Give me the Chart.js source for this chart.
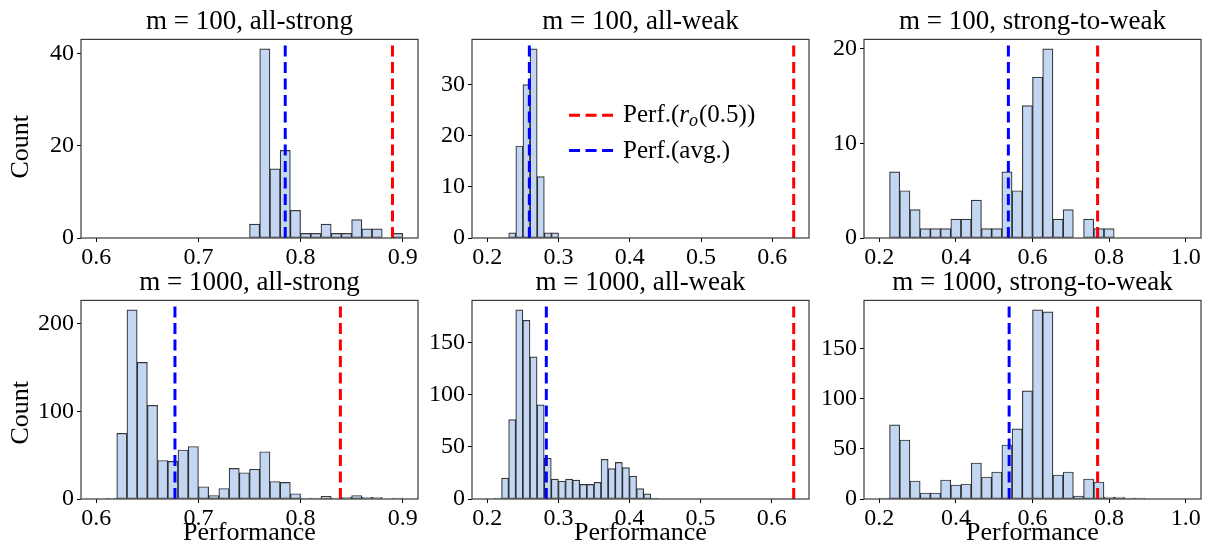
<!DOCTYPE html>
<html><head><meta charset="utf-8">
<script src="https://cdn.jsdelivr.net/npm/chart.js@4"></script>
<style>
html,body{margin:0;padding:0;background:#fff;}
#wrap{position:relative;width:1205px;height:549px;overflow:hidden;background:#fff;}
#wrap canvas{position:absolute;}
</style></head><body><div id="wrap"></div>
<script>
// ---------------- data ----------------
const binCount = 30;
const strongRange = [0.6, 0.9];
const weakRange = [0.2, 0.5];
const s2wRange = [0.2, 1.0];

const counts100Strong = [0,0,0,0,0,0,0,0,0,0,0,0,0,0,0,3,41,15,19,6,1,1,3,1,1,4,2,2,0,1];
const counts100Weak   = [0,0,0,1,18,30,37,12,1,1,0,0,0,0,0,0,0,0,0,0,0,0,0,0,0,0,0,0,0,0];
const counts100S2W    = [0,7,5,3,1,1,1,2,2,4,1,1,7,5,14,17,20,2,3,0,2,1,1,0,0,0,0,0,0,0];
const counts1000Strong= [0,1,75,216,156,107,44,43,56,60,14,4,12,35,30,34,54,20,19,6,1,1,3,1,2,4,2,2,0,1];
const counts1000Weak  = [0,1,20,76,181,171,136,90,39,19,17,19,18,14,14,16,38,29,35,30,22,10,5,1,0,0,0,0,0,0];
const counts1000S2W   = [1,74,59,18,6,6,19,14,15,36,22,27,54,70,108,189,187,24,27,3,20,17,2,2,1,1,0,0,0,0];

const avgPerf = [0.785, 0.259, 0.537, 0.677, 0.283, 0.539];
const roPerf  = [0.890, 0.630, 0.770, 0.839, 0.631, 0.770];

const panelTitles = ['m = 100, all-strong','m = 100, all-weak','m = 100, strong-to-weak',
                     'm = 1000, all-strong','m = 1000, all-weak','m = 1000, strong-to-weak'];
const xTicksStrong = [0.6, 0.7, 0.8, 0.9];
const xTicksWeak   = [0.2, 0.3, 0.4, 0.5, 0.6];
const xTicksS2W    = [0.2, 0.4, 0.6, 0.8, 1.0];
const yTicks100Strong = [0, 20, 40];
const yTicks100Weak   = [0, 10, 20, 30];
const yTicks100S2W    = [0, 10, 20];
const yTicks1000Strong= [0, 100, 200];
const yTicks1000Weak  = [0, 50, 100, 150];
const yTicks1000S2W   = [0, 50, 100, 150];
const yLabel = 'Count';
const xLabel = 'Performance';
const legendLabels = ['Perf.(', 'r', 'o', '(0.5))', 'Perf.(avg.)'];

// ---------------- styling / layout ----------------
const FONT = "'Liberation Serif', 'Times New Roman', serif";
Chart.defaults.font.family = FONT;
Chart.defaults.color = '#000';
const BAR_FILL = '#c3d6f2';
const BAR_EDGE = 'rgba(20,20,20,0.85)';
const colL = [81, 472, 864], colR = [418, 809, 1201];
const rowT = [39, 300], rowB = [238, 499];
const TITLE_SIZE = 27, TICK_SIZE = 24, LABEL_SIZE = 26, LEGEND_SIZE = 25;
const TITLE_PAD = {top: 0, bottom: 1};
const TITLE_H = TITLE_SIZE * 1.2 + TITLE_PAD.top + TITLE_PAD.bottom;

const wrap = document.getElementById('wrap');

const panels = [
  {counts: counts100Strong, range: strongRange, xt: xTicksStrong, yt: yTicks100Strong},
  {counts: counts100Weak,   range: weakRange,   xt: xTicksWeak,   yt: yTicks100Weak},
  {counts: counts100S2W,    range: s2wRange,    xt: xTicksS2W,    yt: yTicks100S2W},
  {counts: counts1000Strong,range: strongRange, xt: xTicksStrong, yt: yTicks1000Strong},
  {counts: counts1000Weak,  range: weakRange,   xt: xTicksWeak,   yt: yTicks1000Weak},
  {counts: counts1000S2W,   range: s2wRange,    xt: xTicksS2W,    yt: yTicks1000S2W},
];

const framePlugin = {
  id: 'frame',
  afterDatasetsDraw(chart) {
    const {ctx, chartArea: a} = chart;
    ctx.save();
    ctx.strokeStyle = '#3a3a3a';
    ctx.lineWidth = 1.2;
    ctx.strokeRect(a.left, a.top, a.right - a.left, a.bottom - a.top);
    ctx.restore();
  }
};

function makeCountPlugin(offset) {
  return {
    id: 'countLabel',
    afterDraw(chart) {
      const {ctx, chartArea: a} = chart;
      ctx.save();
      ctx.translate(21, (a.top + a.bottom) / 2 + offset);
      ctx.rotate(-Math.PI / 2);
      ctx.font = LABEL_SIZE + 'px ' + FONT;
      ctx.fillStyle = '#000';
      ctx.textAlign = 'center';
      ctx.textBaseline = 'middle';
      ctx.fillText(yLabel, 0, 0);
      ctx.restore();
    }
  };
}

const legendPlugin = {
  id: 'refLegend',
  afterDraw(chart) {
    const {ctx, chartArea: a} = chart;
    const w = a.right - a.left, h = a.bottom - a.top;
    const x0 = a.left + 0.288 * w, len = 44;
    const ys = [a.top + 0.382 * h, a.top + 0.56 * h];
    const colors = ['#ff0000', '#0000ff'];
    ctx.save();
    ys.forEach((y, i) => {
      ctx.strokeStyle = colors[i];
      ctx.lineWidth = 3;
      ctx.setLineDash([11, 5.5]);
      ctx.beginPath(); ctx.moveTo(x0, y); ctx.lineTo(x0 + len, y); ctx.stroke();
    });
    ctx.setLineDash([]);
    ctx.fillStyle = '#000';
    ctx.textBaseline = 'alphabetic';
    ctx.textAlign = 'left';
    const reg = LEGEND_SIZE + 'px ' + FONT, ital = 'italic ' + LEGEND_SIZE + 'px ' + FONT,
          sub = 'italic ' + Math.round(LEGEND_SIZE * 0.7) + 'px ' + FONT;
    const parts = [[legendLabels[0], reg, 0], [legendLabels[1], ital, 0], [legendLabels[2], sub, 4], [legendLabels[3], reg, 0]];
    let x = x0 + len + 10;
    parts.forEach(([t, f, dy]) => { ctx.font = f; ctx.fillText(t, x, ys[0] + 7 + dy); x += ctx.measureText(t).width + (dy ? 1 : 0); });
    ctx.font = reg;
    ctx.fillText(legendLabels[4], x0 + len + 10, ys[1] + 7);
    ctx.restore();
  }
};

panels.forEach((p, idx) => {
  const row = Math.floor(idx / 3), col = idx % 3;
  const cLeft = col === 0 ? 0 : colL[col] - 75;
  const cRight = Math.min(colR[col] + 25, 1205);
  const cTop = rowT[row] - TITLE_H;
  const Hx = row === 0 ? 30 : 50;
  const cBottom = rowB[row] + Hx;
  const W = cRight - cLeft, H = cBottom - cTop;
  const Wy = colL[col] - cLeft;
  const canvas = document.createElement('canvas');
  canvas.width = W; canvas.height = H;
  canvas.style.left = cLeft + 'px'; canvas.style.top = cTop + 'px';
  canvas.style.width = W + 'px'; canvas.style.height = H + 'px';
  wrap.appendChild(canvas);

  const [lo, hi] = p.range;
  const bw = (hi - lo) / binCount;
  const barData = p.counts.map((c, i) => ({x: lo + bw * (i + 0.5), y: c}));
  const dMin = lo, dMax = Math.max(hi, roPerf[idx], avgPerf[idx]);
  const xMin = dMin - 0.05 * (dMax - dMin), xMax = dMax + 0.05 * (dMax - dMin);
  const yMax = Math.max(...p.counts) * 1.05;

  const plugins = [framePlugin];
  if (col === 0) plugins.push(makeCountPlugin(row === 0 ? 8 : 13));
  if (idx === 1) plugins.push(legendPlugin);

  new Chart(canvas, {
    type: 'bar',
    data: {
      datasets: [
        {type: 'line', data: [{x: roPerf[idx], y: 0}, {x: roPerf[idx], y: yMax}], borderColor: '#ff0000',
         borderWidth: 3, borderDash: [11, 5.5], pointRadius: 0, fill: false, order: 0},
        {type: 'line', data: [{x: avgPerf[idx], y: 0}, {x: avgPerf[idx], y: yMax}], borderColor: '#0000ff',
         borderWidth: 3, borderDash: [11, 5.5], pointRadius: 0, fill: false, order: 0},
        {type: 'bar', data: barData, backgroundColor: BAR_FILL, borderColor: BAR_EDGE, borderWidth: 1.2,
         borderSkipped: false, barPercentage: 1, categoryPercentage: 1, order: 2}
      ]
    },
    options: {
      responsive: false, animation: false, devicePixelRatio: 1, events: [],
      layout: {padding: {left: 0, right: cRight - colR[col], top: 0, bottom: 0}},
      plugins: {
        legend: {display: false}, tooltip: {enabled: false},
        title: {display: true, text: panelTitles[idx], fullSize: false, color: '#000',
                font: {size: TITLE_SIZE, weight: 'normal', lineHeight: 1.2}, padding: TITLE_PAD}
      },
      scales: {
        x: {
          type: 'linear', min: xMin, max: xMax, offset: false,
          afterBuildTicks: s => { s.ticks = p.xt.map(v => ({value: v})); },
          afterFit: s => { s.height = Hx; s.paddingLeft = 0; s.paddingRight = 0; },
          ticks: {font: {size: TICK_SIZE}, padding: 1, maxRotation: 0, autoSkip: false,
                  callback: v => Number(v).toFixed(1)},
          grid: {display: true, drawOnChartArea: false, drawTicks: true, tickLength: 4, color: '#000', lineWidth: 1, offset: false},
          border: {display: false},
          title: {display: row === 1, text: xLabel, font: {size: LABEL_SIZE, lineHeight: 1.2}, padding: {top: 0, bottom: 0}}
        },
        y: {
          type: 'linear', min: 0, max: yMax,
          afterBuildTicks: s => { s.ticks = p.yt.map(v => ({value: v})); },
          afterFit: s => { s.width = Wy; s.paddingTop = 0; s.paddingBottom = 0; },
          ticks: {font: {size: TICK_SIZE}, padding: 3, autoSkip: false, callback: v => String(v)},
          grid: {display: true, drawOnChartArea: false, drawTicks: true, tickLength: 4, color: '#000', lineWidth: 1},
          border: {display: false}
        }
      }
    },
    plugins
  });
});
</script></body></html>
